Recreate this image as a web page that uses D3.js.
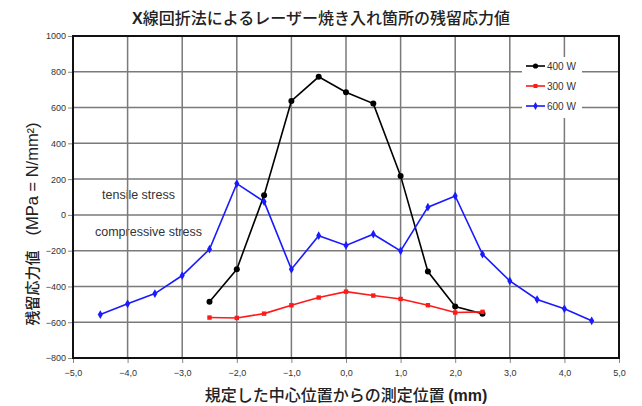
<!DOCTYPE html>
<html><head><meta charset="utf-8">
<script src="https://cdn.jsdelivr.net/npm/d3@7"></script>
<style>body{margin:0;background:#fff;}svg{display:block;}</style>
</head><body>
<script>
const xBlue = [-4.5,-4.0,-3.5,-3.0,-2.5,-2.0,-1.5,-1.0,-0.5,0,0.5,1.0,1.5,2.0,2.5,3.0,3.5,4.0,4.5];
const w600 = [-557,-497,-440,-339,-192,175,74,-304,-116,-171,-108,-201,43,106,-220,-369,-473,-525,-592];
const xShort = [-2.5,-2.0,-1.5,-1.0,-0.5,0,0.5,1.0,1.5,2.0,2.5];
const w400 = [-486,-304,110,637,772,686,622,218,-317,-512,-553];
const w300 = [-574,-576,-552,-505,-462,-429,-451,-470,-505,-546,-542];
const xTicks = [-5,-4,-3,-2,-1,0,1,2,3,4,5];
const yTicks = [-800,-600,-400,-200,0,200,400,600,800,1000];
const seriesNames = ["400 W","300 W","600 W"];

const W=642,H=406;
const svg=d3.select("body").append("svg").attr("width",W).attr("height",H);
const x=d3.scaleLinear().domain([-5,5]).range([73,619]);
const y=d3.scaleLinear().domain([-800,1000]).range([358,36]);
const font="Arial, 'Liberation Sans', sans-serif";
const cjk="'Noto Sans CJK JP', sans-serif";

// annotations (beneath grid)
svg.append("text").attr("x",102).attr("y",199).text("tensile stress")
  .attr("font-family",font).attr("font-size",12.5).attr("fill","#333");
svg.append("text").attr("x",95).attr("y",236).text("compressive stress")
  .attr("font-family",font).attr("font-size",12.5).attr("fill","#333");

// grid
svg.append("g").selectAll("line").data(xTicks.slice(1,-1)).join("line")
  .attr("x1",d=>x(d)).attr("x2",d=>x(d)).attr("y1",y(1000)).attr("y2",y(-800))
  .attr("stroke","#7a7a7a").attr("stroke-width",1.5);
svg.append("g").selectAll("line").data(yTicks.slice(1,-1)).join("line")
  .attr("x1",x(-5)).attr("x2",x(5)).attr("y1",d=>y(d)).attr("y2",d=>y(d))
  .attr("stroke","#7a7a7a").attr("stroke-width",1.5);

// axes
const xa=svg.append("g").attr("transform",`translate(0,${y(-800)})`)
  .call(d3.axisBottom(x).tickValues(xTicks).tickSize(5).tickFormat(d=>d3.format(".1f")(d).replace(".",",")));
const ya=svg.append("g").attr("transform",`translate(${x(-5)},0)`)
  .call(d3.axisLeft(y).tickValues(yTicks).tickSize(5).tickFormat(d3.format("d")));
[xa,ya].forEach(a=>{
  a.select(".domain").remove();
  a.selectAll(".tick line").attr("stroke","#888").attr("stroke-width",1);
  a.selectAll("text").attr("font-family",font).attr("font-size",9).attr("fill","#333");
});
xa.selectAll("text").attr("dy","1.1em");
ya.selectAll("text").attr("x",-7);
// frame
svg.append("rect").attr("x",x(-5)).attr("y",y(1000)).attr("width",x(5)-x(-5)).attr("height",y(-800)-y(1000))
  .attr("fill","none").attr("stroke","#111").attr("stroke-width",2);

// series
const line=d3.line().x(d=>x(d[0])).y(d=>y(d[1]));
function draw(xs,vs,color,marker){
  const pts=xs.map((v,i)=>[v,vs[i]]);
  svg.append("path").datum(pts).attr("d",line).attr("fill","none").attr("stroke",color).attr("stroke-width",1.6);
  const g=svg.append("g");
  pts.forEach(p=>{
    if(marker==="circle") g.append("circle").attr("cx",x(p[0])).attr("cy",y(p[1])).attr("r",3).attr("fill",color);
    else if(marker==="square") g.append("rect").attr("x",x(p[0])-2.2).attr("y",y(p[1])-2.2).attr("width",4.4).attr("height",4.4).attr("fill",color);
    else g.append("path").attr("d",d3.symbol(d3.symbolDiamond,22)()).attr("transform",`translate(${x(p[0])},${y(p[1])})`).attr("fill",color);
  });
}
draw(xShort,w400,"#000","circle");
draw(xShort,w300,"#ff1a1a","square");
draw(xBlue,w600,"#1a1aff","diamond");

// legend
svg.append("rect").attr("x",522).attr("y",57).attr("width",60).attr("height",61).attr("fill","#fff");
const lc=["#000","#ff1a1a","#1a1aff"], lm=["circle","square","diamond"];
seriesNames.forEach((n,i)=>{
  const ly=66+i*20;
  svg.append("line").attr("x1",526).attr("x2",545).attr("y1",ly).attr("y2",ly).attr("stroke",lc[i]).attr("stroke-width",1.6);
  if(lm[i]==="circle") svg.append("circle").attr("cx",535.5).attr("cy",ly).attr("r",2.6).attr("fill",lc[i]);
  else if(lm[i]==="square") svg.append("rect").attr("x",533.5).attr("y",ly-2).attr("width",4).attr("height",4).attr("fill",lc[i]);
  else svg.append("path").attr("d",d3.symbol(d3.symbolDiamond,18)()).attr("transform",`translate(535.5,${ly})`).attr("fill",lc[i]);
  svg.append("text").attr("x",547).attr("y",ly+3.5).text(n).attr("font-family",font).attr("font-size",10).attr("fill","#333");
});

// titles
svg.append("text").attr("x",321).attr("y",24).attr("text-anchor","middle")
  .attr("font-family",cjk).attr("font-size",16).attr("font-weight",500).attr("fill","#222")
  .html('<tspan font-family="Arial, sans-serif" font-weight="bold">X</tspan>線回折法によるレーザー焼き入れ箇所の残留応力値');
svg.append("text").attr("x",346).attr("y",401).attr("text-anchor","middle")
  .attr("font-family",cjk).attr("font-size",16).attr("font-weight",500).attr("fill","#222")
  .html('規定した中心位置からの測定位置 <tspan font-family="Arial, sans-serif" font-weight="bold">(mm)</tspan>');
svg.append("text").attr("transform","translate(38,224) rotate(-90)").attr("text-anchor","middle")
  .attr("font-family",cjk).attr("font-size",15).attr("font-weight",500).attr("fill","#222")
  .html('残留応力値　<tspan font-family="Arial, sans-serif" font-size="16.5">(MPa = N/mm²)</tspan>');
</script>
</body></html>
